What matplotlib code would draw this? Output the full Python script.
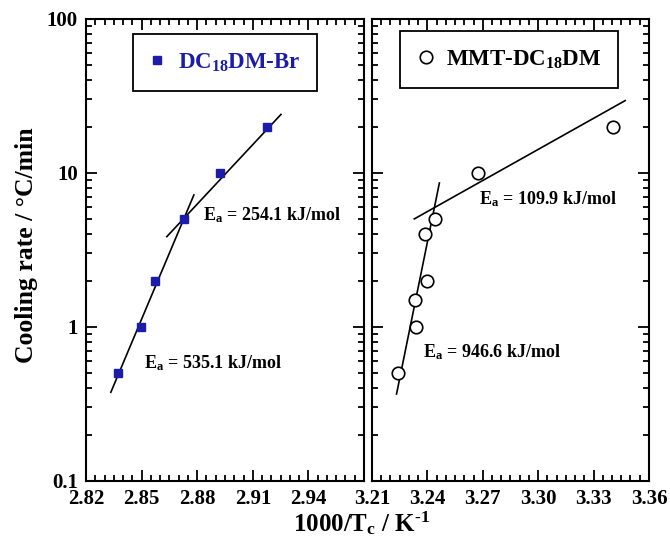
import matplotlib.pyplot as plt
from matplotlib.ticker import MultipleLocator, LogLocator, NullFormatter, FixedLocator

plt.rcParams['font.family'] = ['Liberation Serif', 'DejaVu Serif']
plt.rcParams['font.weight'] = 'bold'
plt.rcParams['mathtext.fontset'] = 'custom'
plt.rcParams['mathtext.rm'] = 'Liberation Serif:bold'
plt.rcParams['mathtext.it'] = 'Liberation Serif:bold'
plt.rcParams['mathtext.bf'] = 'Liberation Serif:bold'

# DC18DM-Br
br_x = [2.837, 2.8496, 2.8571, 2.8727, 2.8925, 2.9179]
br_y = [0.5, 1, 2, 5, 10, 20]
br_fit1_x = [2.8334, 2.8782]
br_fit1_y = [0.377, 7.2]
br_fit2_x = [2.8636, 2.9252]
br_fit2_y = [3.86, 24.0]

# MMT-DC18DM
mmt_x = [3.2242, 3.2336, 3.2331, 3.2396, 3.2385, 3.2440, 3.2673, 3.3407]
mmt_y = [0.5, 1, 1.5, 2, 4, 5, 10, 20]
mmt_fit1_x = [3.2233, 3.2465]
mmt_fit1_y = [0.367, 8.61]
mmt_fit2_x = [3.2329, 3.3471]
mmt_fit2_y = [5.03, 29.5]

left_ticks = [2.82, 2.85, 2.88, 2.91, 2.94]
right_ticks = [3.21, 3.24, 3.27, 3.30, 3.33, 3.36]

blue = '#1c1caa'

fig = plt.figure(figsize=(6.7, 5.48), dpi=100)
ax1 = fig.add_axes([0.1284, 0.1223, 0.4149, 0.8431])
ax2 = fig.add_axes([0.5552, 0.1223, 0.4134, 0.8431])

for ax in (ax1, ax2):
    ax.set_yscale('log')
    ax.set_ylim(0.1, 100)
    ax.yaxis.set_major_locator(LogLocator(base=10, numticks=10))
    ax.yaxis.set_minor_locator(LogLocator(base=10, subs=range(2, 10), numticks=10))
    ax.yaxis.set_minor_formatter(NullFormatter())
    ax.xaxis.set_minor_locator(MultipleLocator(0.005))
    ax.tick_params(which='both', direction='in', top=True, right=True, width=1.3)
    ax.tick_params(which='major', length=8, labelsize=15, pad=6)
    ax.tick_params(which='minor', length=4.5)
    for s in ax.spines.values():
        s.set_linewidth(1.5)

ax1.set_xlim(2.82, 2.97)
ax1.xaxis.set_major_locator(FixedLocator(left_ticks))
ax1.set_xticklabels([f'{t:.2f}' for t in left_ticks])
ax2.set_xlim(3.21, 3.36)
ax2.xaxis.set_major_locator(FixedLocator(right_ticks))
ax2.set_xticklabels([f'{t:.2f}' for t in right_ticks])
ax2.set_yticklabels([])
ax1.set_yticks([0.1, 1, 10, 100])
ax1.set_yticklabels(['0.1', '1', '10', '100'])
ax1.set_ylim(0.1, 100)

ax1.plot(br_fit1_x, br_fit1_y, color='black', lw=1.2)
ax1.plot(br_fit2_x, br_fit2_y, color='black', lw=1.2)
ax1.plot(br_x, br_y, 's', color=blue, markersize=6, linestyle='none',
         label='DC$_{18}$DM-Br')

ax2.plot(mmt_fit1_x, mmt_fit1_y, color='black', lw=1.2)
ax2.plot(mmt_fit2_x, mmt_fit2_y, color='black', lw=1.2)
ax2.plot(mmt_x, mmt_y, 'o', mfc='white', mec='black', mew=1.2, markersize=9,
         linestyle='none', label='MMT-DC$_{18}$DM')

leg1 = ax1.legend(loc='center', bbox_to_anchor=(0.50, 0.906), fontsize=16.5,
                  frameon=True, fancybox=False, edgecolor='black', framealpha=1,
                  borderpad=0.75, handlelength=0.6, handletextpad=0.6,
                  borderaxespad=0, labelcolor=blue, markerscale=0.9)
leg1.get_frame().set_linewidth(1.3)
leg2 = ax2.legend(loc='center', bbox_to_anchor=(0.495, 0.912), fontsize=16.5,
                  frameon=True, fancybox=False, edgecolor='black', framealpha=1,
                  borderpad=0.75, handlelength=0.8, handletextpad=0.45,
                  borderaxespad=0, markerscale=1.0)
leg2.get_frame().set_linewidth(1.3)

ax1.text(2.883, 5.3, 'E$_\\mathrm{a}$ = 254.1 kJ/mol', fontsize=13, va='center')
ax1.text(2.8515, 0.58, 'E$_\\mathrm{a}$ = 535.1 kJ/mol', fontsize=13, va='center')
ax2.text(3.2678, 6.8, 'E$_\\mathrm{a}$ = 109.9 kJ/mol', fontsize=13, va='center')
ax2.text(3.2377, 0.69, 'E$_\\mathrm{a}$ = 946.6 kJ/mol', fontsize=13, va='center')

fig.text(0.039, 0.553, 'Cooling rate / °C/min', rotation=90, fontsize=18.5,
         ha='center', va='center')
fig.text(0.539, 0.045, '1000/T$_\\mathrm{c}$ / K$^{\\text{-1}}$', fontsize=18,
         ha='center', va='center')

fig.savefig('out.png', dpi=100)
